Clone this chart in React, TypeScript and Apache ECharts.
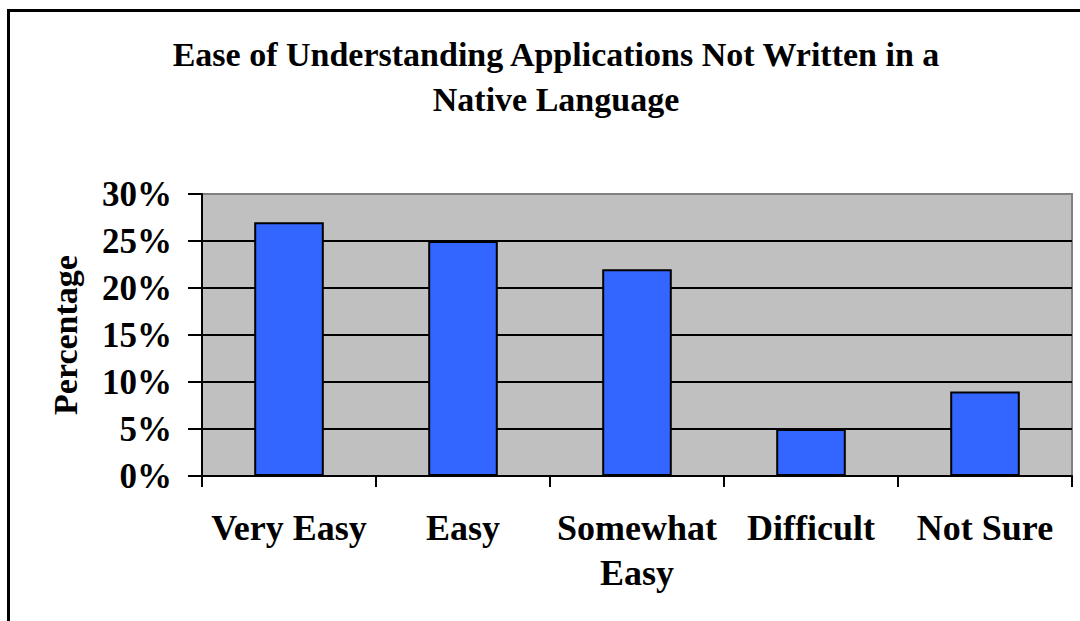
import React, { useEffect, useRef } from "react";
import * as echarts from "echarts";

const categories = ["Very Easy", "Easy", "Somewhat\nEasy", "Difficult", "Not Sure"];
const percentages = [27, 25, 22, 5, 9];
const titleText = "Ease of Understanding Applications Not Written in a\nNative Language";
const yAxisName = "Percentage";
const yMin = 0;
const yMax = 30;
const yStep = 5;

const FONT = "'Times New Roman', 'Liberation Serif', serif";

export default function App() {
  const ref = useRef<HTMLDivElement>(null);
  useEffect(() => {
    if (!ref.current) return;
    const chart = echarts.init(ref.current, null, { renderer: "svg" });
    chart.setOption({
      animation: false,
      backgroundColor: "#ffffff",
      title: {
        text: titleText,
        left: 551,
        textAlign: "center",
        top: 27,
        textStyle: {
          fontFamily: FONT,
          fontWeight: "bold",
          fontSize: 34,
          lineHeight: 45,
          color: "#000",
        },
      },
      graphic: [
        {
          type: "rect",
          shape: { x: 8.5, y: 10.5, width: 3000, height: 3000 },
          style: { fill: "none", stroke: "#000", lineWidth: 3 },
          silent: true,
        },
      ],
      grid: {
        left: 202,
        top: 194,
        right: 8,
        bottom: 145,
        show: true,
        backgroundColor: "#C0C0C0",
        borderColor: "#808080",
        borderWidth: 2,
        containLabel: false,
      },
      xAxis: {
        type: "category",
        data: categories,
        boundaryGap: true,
        axisLine: { show: true, lineStyle: { color: "#000", width: 2 } },
        axisTick: { show: true, length: 11, alignWithLabel: false, lineStyle: { color: "#000", width: 2 } },
        axisLabel: {
          interval: 0,
          margin: 29,
          fontFamily: FONT,
          fontWeight: "bold",
          fontSize: 36,
          lineHeight: 45,
          color: "#000",
        },
        splitLine: { show: false },
      },
      yAxis: {
        type: "value",
        min: yMin,
        max: yMax,
        interval: yStep,
        name: yAxisName,
        nameLocation: "middle",
        nameGap: 120,
        nameRotate: 90,
        nameTextStyle: {
          fontFamily: FONT,
          fontWeight: "bold",
          fontSize: 34,
          color: "#000",
        },
        axisLine: { show: true, lineStyle: { color: "#000", width: 2 } },
        axisTick: { show: true, length: 14, lineStyle: { color: "#000", width: 2 } },
        axisLabel: {
          formatter: "{value}%",
          margin: 30,
          fontFamily: FONT,
          fontWeight: "bold",
          fontSize: 35,
          color: "#000",
        },
        splitLine: {
          show: true,
          showMinLine: false,
          showMaxLine: false,
          lineStyle: { color: "#000", width: 2 },
        },
      },
      series: [
        {
          type: "bar",
          data: percentages,
          barWidth: "40%",
          itemStyle: { color: "#3366FF", borderColor: "#000", borderWidth: 2 },
        },
      ],
    });
    return () => chart.dispose();
  }, []);
  return (
    <div
      ref={ref}
      style={{ position: "absolute", left: 0, top: 0, width: 1080, height: 621 }}
    />
  );
}
